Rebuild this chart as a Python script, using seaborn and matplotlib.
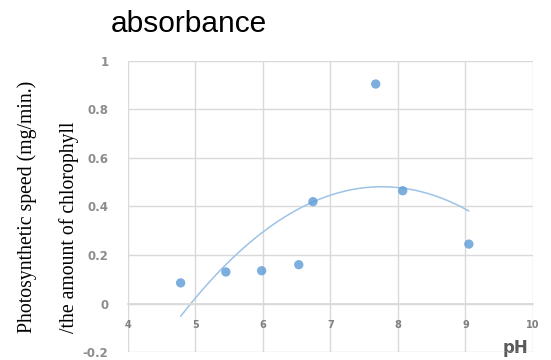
import numpy as np
import pandas as pd
import matplotlib
matplotlib.use("Agg")
import matplotlib.pyplot as plt
import seaborn as sns
from matplotlib.ticker import FuncFormatter

# data
ph = [4.78, 5.45, 5.98, 6.53, 6.74, 7.67, 8.07, 9.05]
speed = [0.085, 0.13, 0.135, 0.16, 0.42, 0.905, 0.465, 0.245]
x_ticks = [4, 5, 6, 7, 8, 9, 10]
y_ticks = [-0.2, 0, 0.2, 0.4, 0.6, 0.8, 1.0]

df = pd.DataFrame({"pH": ph, "speed": speed})

sns.set_theme(style="white")
plt.rcParams["axes.unicode_minus"] = False

fig = plt.figure(figsize=(5.51, 3.6), dpi=100)
ax = fig.add_axes([0.2323, 0.0222, 0.735, 0.8084])

grid_col = "#d9d9d9"
dot_col = "#5b9bd5"
line_col = "#9dc3e6"

# points + quadratic trendline (like Excel polynomial order 2)
sns.regplot(data=df, x="pH", y="speed", order=2, ci=None, ax=ax,
            scatter_kws={"s": 45, "color": dot_col, "edgecolor": "none", "zorder": 3},
            line_kws={"color": line_col, "lw": 1.1, "zorder": 2})

ax.set_xlim(4, 10)
ax.set_ylim(-0.2, 1.0)
ax.set_xticks(x_ticks)
ax.set_yticks(y_ticks)
ax.yaxis.set_major_formatter(FuncFormatter(lambda v, p: f"{v:g}"))
ax.grid(True, color=grid_col, lw=1)
ax.set_axisbelow(True)

for s in ["top", "right", "left"]:
    ax.spines[s].set_visible(False)
ax.spines["bottom"].set_position(("data", 0))
ax.spines["bottom"].set_color(grid_col)

ax.tick_params(axis="x", length=0, pad=12, labelsize=7, labelcolor="#7f7f7f")
ax.tick_params(axis="y", length=0, pad=14, labelsize=8.5, labelcolor="#8c8c8c")
for lab in ax.get_xticklabels() + ax.get_yticklabels():
    lab.set_fontweight("bold")

ax.set_xlabel("pH", fontsize=12, fontweight="bold", color="#595959",
              ha="right", va="baseline")
ax.xaxis.set_label_coords(0.988, -0.005)

ax.set_ylabel("Photosynthetic speed (mg/min.)\n/the amount of chlorophyll",
              fontsize=14.2, family="Liberation Serif", color="black",
              multialignment="left", linespacing=2.5, va="center")
ax.yaxis.set_label_coords(-0.197, 0.5)

fig.text(111 / 551, 1 - 24 / 360, "absorbance", fontsize=21.5,
         family="Liberation Sans", ha="left", va="center", color="black")

fig.savefig("out.png", dpi=100)
